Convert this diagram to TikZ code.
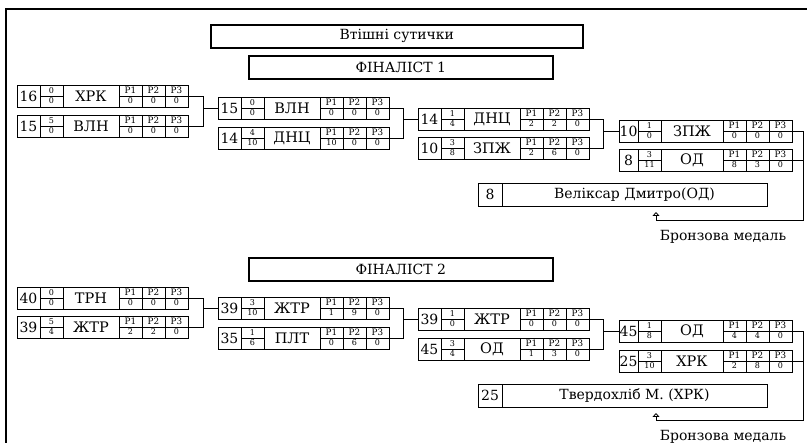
\documentclass[tikz,border=0pt]{standalone}
\usepackage{fontspec}
\setmainfont{DejaVu Serif}
\usetikzlibrary{arrows.meta,calc}
\tikzset{
  cell/.style={draw, line width=0.8pt, rectangle, inner sep=0pt, outer sep=0pt,
               minimum height=22pt, anchor=north west},
  bigtxt/.style={font=\fontsize{14}{16}\selectfont},
  teamtxt/.style={font=\fontsize{14.5}{16}\selectfont},
  smalltxt/.style={font=\fontsize{8}{9}\selectfont, inner sep=0pt},
  plabel/.style={font=\fontsize{8.8}{9}\selectfont, inner sep=0pt},
  thinline/.style={line width=0.6pt},
  conn/.style={line width=0.8pt},
  titlebox/.style={draw, line width=1.6pt, inner sep=0pt, minimum height=23pt, font=\fontsize{14}{16}\selectfont},
  medal/.style={font=\fontsize{14}{16}\selectfont, inner sep=0pt},
  tipstyle/.style={-{Triangle[open,length=4pt,width=7pt]}}
}
\newcommand\numw{23pt}
\newcommand\teamw{56pt}
% #1 name, #2 (x,y), #3 number, #4 top, #5 bottom, #6 team, #7 #8 #9 P values
\newcommand\matchrow[9]{%
  \node[cell,bigtxt,minimum width=\numw] (#1-n) at #2 {#3};
  \node[cell,minimum width=23pt] (#1-f) at (#1-n.north east) {};
  \node[cell,teamtxt,minimum width=\teamw] (#1-t) at (#1-f.north east) {#6};
  \node[cell,minimum width=23pt] (#1-p1) at (#1-t.north east) {};
  \node[cell,minimum width=23pt] (#1-p2) at (#1-p1.north east) {};
  \node[cell,minimum width=23pt] (#1-p3) at (#1-p2.north east) {};
  \draw[thinline] (#1-f.west) -- (#1-f.east) (#1-p1.west) -- (#1-p3.east);
  \node[smalltxt] (#1-ft) at ([yshift=5.5pt]#1-f.center) {#4};
  \node[smalltxt] (#1-fb) at ([yshift=-5pt]#1-f.center) {#5};
  \node[plabel] (#1-l1) at ([yshift=5.5pt]#1-p1.center) {P1};
  \node[plabel] (#1-l2) at ([yshift=5.5pt]#1-p2.center) {P2};
  \node[plabel] (#1-l3) at ([yshift=5.5pt]#1-p3.center) {P3};
  \node[smalltxt] (#1-v1) at ([yshift=-5pt]#1-p1.center) {#7};
  \node[smalltxt] (#1-v2) at ([yshift=-5pt]#1-p2.center) {#8};
  \node[smalltxt] (#1-v3) at ([yshift=-5pt]#1-p3.center) {#9};
}
\begin{document}
\begin{tikzpicture}[x=1pt,y=-1pt]
\useasboundingbox (0,0) rectangle (807,443);
% frame
\draw[line width=1.8pt] (6,445) -- (6,9) -- (809,9);
% titles
\node[titlebox,anchor=north west,minimum width=372pt] (title) at (210,24) {Втішні сутички};
\node[titlebox,anchor=north west,minimum width=304pt] (fin1) at (248,55) {ФІНАЛІСТ 1};
\node[titlebox,anchor=north west,minimum width=304pt] (fin2) at (248,257) {ФІНАЛІСТ 2};

% join x positions
\coordinate (j1) at (203,0);
\coordinate (j2) at (403,0);
\coordinate (j3) at (603,0);

% ===== Bracket 1 =====
\matchrow{a1}{(17,85)}{16}{0}{0}{ХРК}{0}{0}{0}
\matchrow{a2}{(17,115)}{15}{5}{0}{ВЛН}{0}{0}{0}
\matchrow{b1}{(218,97)}{15}{0}{0}{ВЛН}{0}{0}{0}
\matchrow{b2}{(218,127)}{14}{4}{10}{ДНЦ}{10}{0}{0}
\matchrow{c1}{(418,108)}{14}{1}{4}{ДНЦ}{2}{2}{0}
\matchrow{c2}{(418,137)}{10}{3}{8}{ЗПЖ}{2}{6}{0}
\renewcommand\numw{19pt}\renewcommand\teamw{62pt}
\matchrow{d1}{(619,120)}{10}{1}{0}{ЗПЖ}{0}{0}{0}
\matchrow{d2}{(619,149)}{8}{3}{11}{ОД}{8}{3}{0}
\renewcommand\numw{23pt}\renewcommand\teamw{56pt}
\node[cell,bigtxt,minimum width=24pt,minimum height=23pt] (w1n) at (478,183) {8};
\node[cell,bigtxt,minimum width=265pt,minimum height=23pt] (w1t) at (w1n.north east) {Веліксар Дмитро(ОД)};

\draw[conn] (a1-p3.east) -| (j1 |- a2-p3.east) -- (a2-p3.east);
\draw[conn] (b1-n.west) -- (b1-n.west -| j1);
\draw[conn] (b1-p3.east) -| (j2 |- b2-p3.east) -- (b2-p3.east);
\draw[conn] (c1-n.west) -- (c1-n.west -| j2);
\draw[conn] (c1-p3.east) -| (j3 |- c2-p3.east) -- (c2-p3.east);
\draw[conn] (d1-n.west) -- (d1-n.west -| j3);

\coordinate (bx1) at (803,220);
\coordinate (tip1) at (656,212);
\draw[conn,tipstyle] (d1-p3.east) -| (bx1) -| (tip1);
\draw[conn] (d2-p3.east) -- (d2-p3.east -| bx1);
\node[medal] (bronze1) at (723,237) {Бронзова медаль};

% ===== Bracket 2 =====
\matchrow{e1}{(17,287)}{40}{0}{0}{ТРН}{0}{0}{0}
\matchrow{e2}{(17,316)}{39}{5}{4}{ЖТР}{2}{2}{0}
\matchrow{f1}{(218,297)}{39}{3}{10}{ЖТР}{1}{9}{0}
\matchrow{f2}{(218,327)}{35}{1}{6}{ПЛТ}{0}{6}{0}
\matchrow{g1}{(418,308)}{39}{1}{0}{ЖТР}{0}{0}{0}
\matchrow{g2}{(418,338)}{45}{3}{4}{ОД}{1}{3}{0}
\renewcommand\numw{19pt}\renewcommand\teamw{62pt}
\matchrow{h1}{(619,320)}{45}{1}{8}{ОД}{4}{4}{0}
\matchrow{h2}{(619,350)}{25}{3}{10}{ХРК}{2}{8}{0}
\node[cell,bigtxt,minimum width=24pt,minimum height=23pt] (w2n) at (478,384) {25};
\node[cell,bigtxt,minimum width=265pt,minimum height=23pt] (w2t) at (w2n.north east) {Твердохліб М. (ХРК)};

\draw[conn] (e1-p3.east) -| (j1 |- e2-p3.east) -- (e2-p3.east);
\draw[conn] (f1-n.west) -- (f1-n.west -| j1);
\draw[conn] (f1-p3.east) -| (j2 |- f2-p3.east) -- (f2-p3.east);
\draw[conn] (g1-n.west) -- (g1-n.west -| j2);
\draw[conn] (g1-p3.east) -| (j3 |- g2-p3.east) -- (g2-p3.east);
\draw[conn] (h1-n.west) -- (h1-n.west -| j3);

\coordinate (bx2) at (803,420);
\coordinate (tip2) at (656,413);
\draw[conn,tipstyle] (h1-p3.east) -| (bx2) -| (tip2);
\draw[conn] (h2-p3.east) -- (h2-p3.east -| bx2);
\node[medal] (bronze2) at (723,437) {Бронзова медаль};
\end{tikzpicture}
\end{document}
